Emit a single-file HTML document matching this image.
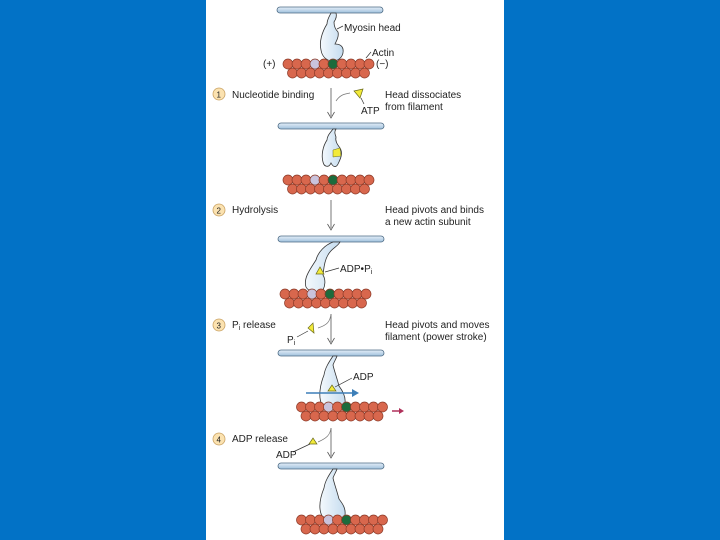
<!DOCTYPE html>
<html><head><meta charset="utf-8"><style>
html,body{margin:0;padding:0;background:#0272C6;}
svg{display:block}
text{font-family:"Liberation Sans",sans-serif;font-size:10px;fill:#222}
</style></head><body>
<svg width="720" height="540" viewBox="0 0 720 540" xmlns="http://www.w3.org/2000/svg">
<defs>
<linearGradient id="rod" x1="0" y1="0" x2="0" y2="1"><stop offset="0" stop-color="#e4eef8"/><stop offset="1" stop-color="#9fc0dc"/></linearGradient>
<linearGradient id="hd" x1="0" y1="0" x2="1" y2="0"><stop offset="0" stop-color="#f4f9fd"/><stop offset="1" stop-color="#c5dcef"/></linearGradient>
<g id="fil">
<g fill="#d8674d" stroke="#8b3a28" stroke-width="0.7">
<circle cx="0" cy="9" r="5"/><circle cx="9" cy="9" r="5"/><circle cx="18" cy="9" r="5"/><circle cx="27" cy="9" r="5"/><circle cx="36" cy="9" r="5"/><circle cx="45" cy="9" r="5"/><circle cx="54" cy="9" r="5"/><circle cx="63" cy="9" r="5"/><circle cx="72" cy="9" r="5"/>
<circle cx="-4.5" cy="0" r="5"/><circle cx="4.5" cy="0" r="5"/><circle cx="13.5" cy="0" r="5"/><circle cx="22.5" cy="0" r="5" fill="#c9c3dc"/><circle cx="31.5" cy="0" r="5"/><circle cx="40.5" cy="0" r="5" fill="#1c6b3c"/><circle cx="49.5" cy="0" r="5"/><circle cx="58.5" cy="0" r="5"/><circle cx="67.5" cy="0" r="5"/><circle cx="76.5" cy="0" r="5"/>
</g></g>
<g id="rodg"><rect x="0" y="-3" width="106" height="6" rx="3" fill="url(#rod)" stroke="#4d6b85" stroke-width="0.8"/></g>
<g id="arr"><line x1="0" y1="0" x2="0" y2="28" stroke="#555" stroke-width="0.8"/><path d="M-3.5,24 L0,30 L3.5,24" fill="none" stroke="#555" stroke-width="0.8"/></g>
<g id="num"><circle r="6" fill="#fbe2b0" stroke="#c9a263" stroke-width="0.8"/></g>
</defs>
<rect x="206" y="0" width="298" height="540" fill="#fff"/>

<!-- panel 1 -->
<use href="#rodg" x="277" y="10"/>
<path d="M331,13 C329,17 327,20 327,24 C322,32 319,42 321,50 C322,57 327,61 333,61 C340,61 344,55 343,49 C342,45 338,44 335,44 C337,40 339,36 338,32 C335,29 334,25 334,22 C336,19 337,16 336,13 Z" fill="url(#hd)" stroke="#333" stroke-width="0.8"/>
<use href="#fil" x="292.5" y="64"/>
<line x1="337" y1="29" x2="343" y2="26" stroke="#333" stroke-width="0.7"/>
<text x="344" y="31">Myosin head</text>
<line x1="366" y1="58" x2="371" y2="52" stroke="#333" stroke-width="0.7"/>
<text x="372" y="56">Actin</text>
<text x="376" y="67">(−)</text>
<text x="263" y="67">(+)</text>
<use href="#num" x="219" y="94"/><text x="216.5" y="97.5" style="font-size:8px">1</text>
<text x="232" y="98">Nucleotide binding</text>
<use href="#arr" x="331" y="88"/>
<path d="M336,101 C340,95 344,94 350,93" fill="none" stroke="#777" stroke-width="0.7"/>
<path d="M354,91 L363,89 L360,98 Z" fill="#f2ea3a" stroke="#6b6b1a" stroke-width="0.7"/>
<line x1="361" y1="98" x2="364" y2="104" stroke="#333" stroke-width="0.7"/>
<text x="361" y="114">ATP</text>
<text x="385" y="98">Head dissociates</text>
<text x="385" y="110">from filament</text>

<!-- panel 2 -->
<use href="#rodg" x="278" y="126"/>
<path d="M333,129 C330,133 327,136 327,140 C323,146 321,155 323,162 C324,167 329,168 331,163 C333,167 336,168 338,164 C341,158 343,153 340,148 C337,144 335,141 336,137 C335,134 334,132 336,129 Z" fill="url(#hd)" stroke="#333" stroke-width="0.8"/>
<path d="M333,150 L340,148 L341,156 L333,157 Z" fill="#f2ea3a" stroke="#6b6b1a" stroke-width="0.5"/>
<use href="#fil" x="292.5" y="180"/>
<use href="#num" x="219" y="210"/><text x="216.5" y="213.5" style="font-size:8px">2</text>
<text x="232" y="213">Hydrolysis</text>
<use href="#arr" x="331" y="200"/>
<text x="385" y="213">Head pivots and binds</text>
<text x="385" y="225">a new actin subunit</text>

<!-- panel 3 -->
<use href="#rodg" x="278" y="239"/>
<path d="M333,242 C325,245 318,252 316,260 C311,268 303,278 306,287 C309,293 320,293 323,290 C325,286 326,280 323,275 C324,266 325,258 330,252 C333,248 338,246 340,242 Z" fill="url(#hd)" stroke="#333" stroke-width="0.8"/>
<path d="M316,274 L320,267 L324,274 Z" fill="#f2ea3a" stroke="#6b6b1a" stroke-width="0.7"/>
<use href="#fil" x="289.5" y="294"/>
<line x1="325" y1="272" x2="339" y2="268" stroke="#333" stroke-width="0.7"/>
<text x="340" y="272">ADP•P<tspan style="font-size:7px" dy="2">i</tspan></text>
<use href="#num" x="219" y="325"/><text x="216.5" y="328.5" style="font-size:8px">3</text>
<text x="232" y="328">P<tspan style="font-size:7px" dy="2">i</tspan><tspan dy="-2"> release</tspan></text>
<use href="#arr" x="331" y="314"/>
<path d="M331,314 C330,322 327,325 318,328" fill="none" stroke="#777" stroke-width="0.7"/>
<path d="M308,328 L313,323 L314,333 Z" fill="#f2ea3a" stroke="#6b6b1a" stroke-width="0.7"/>
<line x1="308" y1="331" x2="297" y2="337" stroke="#333" stroke-width="0.7"/>
<text x="287" y="343">P<tspan style="font-size:7px" dy="2">i</tspan></text>
<text x="385" y="328">Head pivots and moves</text>
<text x="385" y="340">filament (power stroke)</text>

<!-- panel 4 -->
<use href="#rodg" x="278" y="353"/>
<path d="M333,356 C329,362 325,368 324,375 C320,385 318,397 322,405 C326,408 332,409 335,404 C338,408 343,408 345,403 C346,396 342,390 339,386 C337,378 334,370 333,365 C334,362 336,359 337,356 Z" fill="url(#hd)" stroke="#333" stroke-width="0.8"/>
<path d="M328,391 L332,385 L336,391 Z" fill="#f2ea3a" stroke="#6b6b1a" stroke-width="0.7"/>
<line x1="335" y1="387" x2="352" y2="378" stroke="#333" stroke-width="0.7"/>
<text x="353" y="380">ADP</text>
<line x1="306" y1="393" x2="355" y2="393" stroke="#3d7fb8" stroke-width="1.5"/>
<path d="M352,389 L359,393 L352,397 Z" fill="#3d7fb8"/>
<use href="#fil" x="306" y="407"/>
<line x1="392" y1="411" x2="401" y2="411" stroke="#b0305a" stroke-width="1.5"/>
<path d="M399,408 L404,411 L399,414 Z" fill="#b0305a"/>
<use href="#num" x="219" y="439"/><text x="216.5" y="442.5" style="font-size:8px">4</text>
<text x="232" y="442">ADP release</text>
<use href="#arr" x="331" y="428"/>
<path d="M331,428 C330,435 327,438 318,442" fill="none" stroke="#777" stroke-width="0.7"/>
<path d="M309,444 L313,438 L317,444 Z" fill="#f2ea3a" stroke="#6b6b1a" stroke-width="0.7"/>
<line x1="310" y1="444" x2="293" y2="452" stroke="#333" stroke-width="0.7"/>
<text x="276" y="458">ADP</text>

<!-- panel 5 -->
<use href="#rodg" x="278" y="466"/>
<path d="M333,469 C329,475 325,481 324,488 C320,498 318,508 322,516 C326,519 332,520 335,516 C338,520 343,519 345,515 C346,508 342,503 339,499 C337,491 334,483 333,478 C334,475 336,472 337,469 Z" fill="url(#hd)" stroke="#333" stroke-width="0.8"/>
<use href="#fil" x="306" y="520"/>
</svg>
</body></html>
